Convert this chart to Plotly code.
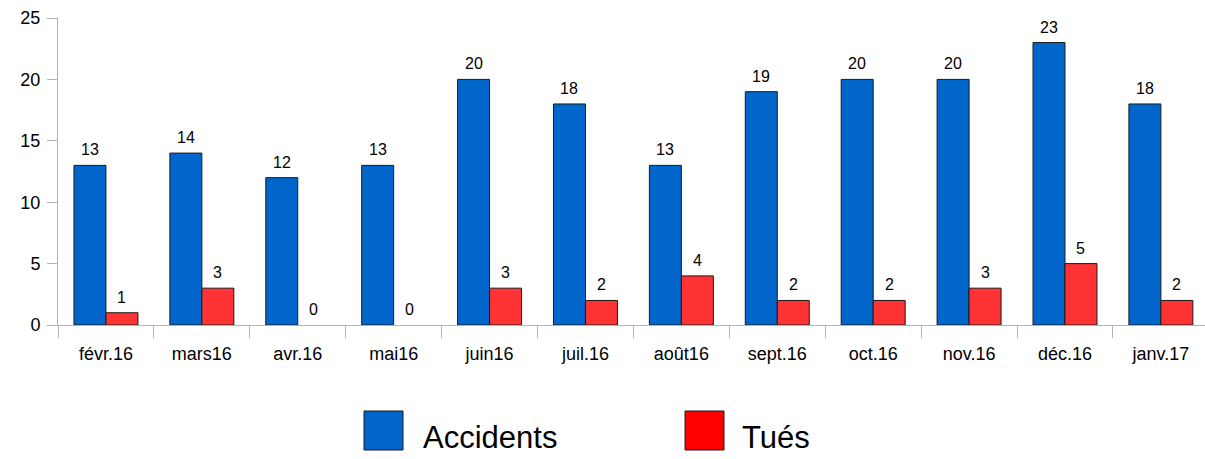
import plotly.graph_objects as go

months = ["févr.16", "mars16", "avr.16", "mai16", "juin16", "juil.16", "août16",
          "sept.16", "oct.16", "nov.16", "déc.16", "janv.17"]
accidents = [13, 14, 12, 13, 20, 18, 13, 19, 20, 20, 23, 18]
tues = [1, 3, 0, 0, 3, 2, 4, 2, 2, 3, 5, 2]
series_names = ["Accidents", "Tués"]

BLUE = "#0066CC"
RED_BAR = "#FF3333"
RED_LEG = "#FF0000"
FONT = "Liberation Sans, Arial, sans-serif"

W, H = 1205, 459
ML, MR, MT, MB = 58, 0, 18, 134
PW = W - ML - MR
PH = H - MT - MB

def px_x(px):
    return (px - ML) / PW

def px_y(py):
    return (H - MB - py) / PH

fig = go.Figure()
fig.add_trace(go.Bar(x=months, y=accidents, name=series_names[0], marker_color=BLUE,
                     marker_line=dict(color="#1a1a1a", width=[0 if v == 0 else 1 for v in accidents]),
                     showlegend=False))
fig.add_trace(go.Bar(x=months, y=tues, name=series_names[1], marker_color=RED_BAR,
                     marker_line=dict(color="#1a1a1a", width=[0 if v == 0 else 1 for v in tues]),
                     showlegend=False))

annotations = []
for vals, dx in ((accidents, -16), (tues, 16)):
    for m, v in zip(months, vals):
        annotations.append(dict(x=m, y=v, xref="x", yref="y", text=str(v), showarrow=False,
                                xshift=dx, yshift=5, yanchor="bottom", xanchor="center",
                                font=dict(family=FONT, size=16, color="#000000")))

# legend
shapes = []
for (x0, x1, col, label, tx) in ((364, 403, BLUE, series_names[0], 421),
                                 (685, 724, RED_LEG, series_names[1], 740)):
    shapes.append(dict(type="rect", xref="paper", yref="paper",
                       x0=px_x(x0), x1=px_x(x1), y0=px_y(411), y1=px_y(450),
                       fillcolor=col, line=dict(color="#1a1a1a", width=1)))
    annotations.append(dict(x=px_x(tx), y=px_y(437), xref="paper", yref="paper", text=label,
                            showarrow=False, xanchor="left", yanchor="middle",
                            font=dict(family=FONT, size=31, color="#000000")))

fig.update_layout(
    width=W, height=H, autosize=False,
    margin=dict(l=ML, r=MR, t=MT, b=MB, pad=0),
    paper_bgcolor="white", plot_bgcolor="white",
    barmode="group", bargap=0.333, bargroupgap=0,
    showlegend=False,
    font=dict(family=FONT, size=17, color="#000000"),
    annotations=annotations, shapes=shapes,
)
fig.update_xaxes(type="category", range=[-0.5, 11.46], tickson="boundaries",
                 ticks="outside", ticklen=12, tickcolor="#b3b3b3", tickwidth=1,
                 ticklabelstandoff=12,
                 showline=True, linecolor="#b3b3b3", linewidth=1, showgrid=False,
                 tickfont=dict(family=FONT, size=18, color="#000000"))
fig.update_yaxes(range=[0, 25], dtick=5, ticks="outside", ticklen=10, tickcolor="#b3b3b3",
                 ticklabelstandoff=3,
                 showline=True, linecolor="#b3b3b3", linewidth=1, showgrid=False, zeroline=False,
                 tickfont=dict(family=FONT, size=18, color="#000000"))

fig.write_html("out.html", config={"displayModeBar": False},
               post_script="document.body.style.margin='0';document.body.style.overflow='hidden';")
